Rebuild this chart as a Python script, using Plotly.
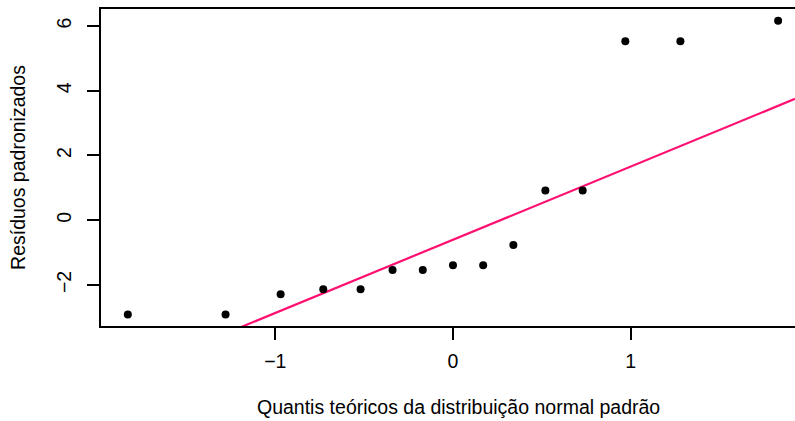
import plotly.graph_objects as go
import numpy as np

# Theoretical standard-normal quantiles (x) and standardized residuals (y)
quantis = [-1.83, -1.28, -0.97, -0.73, -0.52, -0.34, -0.17, 0.0,
           0.17, 0.34, 0.52, 0.73, 0.97, 1.28, 1.83]
residuos = [-2.91, -2.91, -2.29, -2.13, -2.13, -1.54, -1.54, -1.39,
            -1.39, -0.77, 0.92, 0.92, 5.53, 5.53, 6.16]
x_ticks = [-1, 0, 1]
y_ticks = [-2, 0, 2, 4, 6]
x_title = "Quantis teóricos da distribuição normal padrão"
y_title = "Resíduos padronizados"

# qqline: line through the 1st and 3rd quartiles
yq = np.quantile(residuos, [0.25, 0.75])
xq = np.array([-0.6745, 0.6745])
slope = (yq[1] - yq[0]) / (xq[1] - xq[0])
intercept = yq[0] - slope * xq[0]

xr = [-1.981, 1.925]
yr = [-3.269, 6.523]
line_x = np.array(xr)
line_y = intercept + slope * line_x

FONT = "Liberation Sans, Arial, Helvetica, sans-serif"

fig = go.Figure()
fig.add_trace(go.Scatter(x=line_x, y=line_y, mode="lines",
                         line=dict(color="#FF1070", width=2.2),
                         showlegend=False, hoverinfo="skip"))
fig.add_trace(go.Scatter(x=quantis, y=residuos, mode="markers",
                         marker=dict(color="black", size=8),
                         showlegend=False, cliponaxis=False))

fig.update_layout(
    width=795, height=421,
    margin=dict(l=101, r=0, t=9, b=95),
    paper_bgcolor="white", plot_bgcolor="white",
    font=dict(family=FONT, size=19.5, color="black"),
    xaxis=dict(range=xr, tickvals=x_ticks, ticktext=["\u22121", "0", "1"],
               showgrid=False, zeroline=False,
               showline=True, linecolor="black", linewidth=2, mirror=True,
               ticks="outside", ticklen=12, tickwidth=2, tickcolor="black",
               ticklabelstandoff=5),
    yaxis=dict(range=yr, tickvals=y_ticks,
               ticktext=["\u22122", "0", "2", "4", "6"],
               tickangle=-90,
               showgrid=False, zeroline=False,
               showline=True, linecolor="black", linewidth=2, mirror=False,
               ticks="outside", ticklen=12, tickwidth=2, tickcolor="black",
               ticklabelstandoff=8,
               title=dict(text=y_title, standoff=22, font=dict(size=19.5))),
    annotations=[dict(text=x_title, xref="paper", yref="paper",
                      x=0.5145, y=-0.256, xanchor="center", yanchor="middle",
                      showarrow=False, font=dict(size=19.5))],
)

fig.write_html("out.html",
               config={"displayModeBar": False},
               post_script="document.body.style.margin='0';"
                           "document.body.style.overflow='hidden';")
